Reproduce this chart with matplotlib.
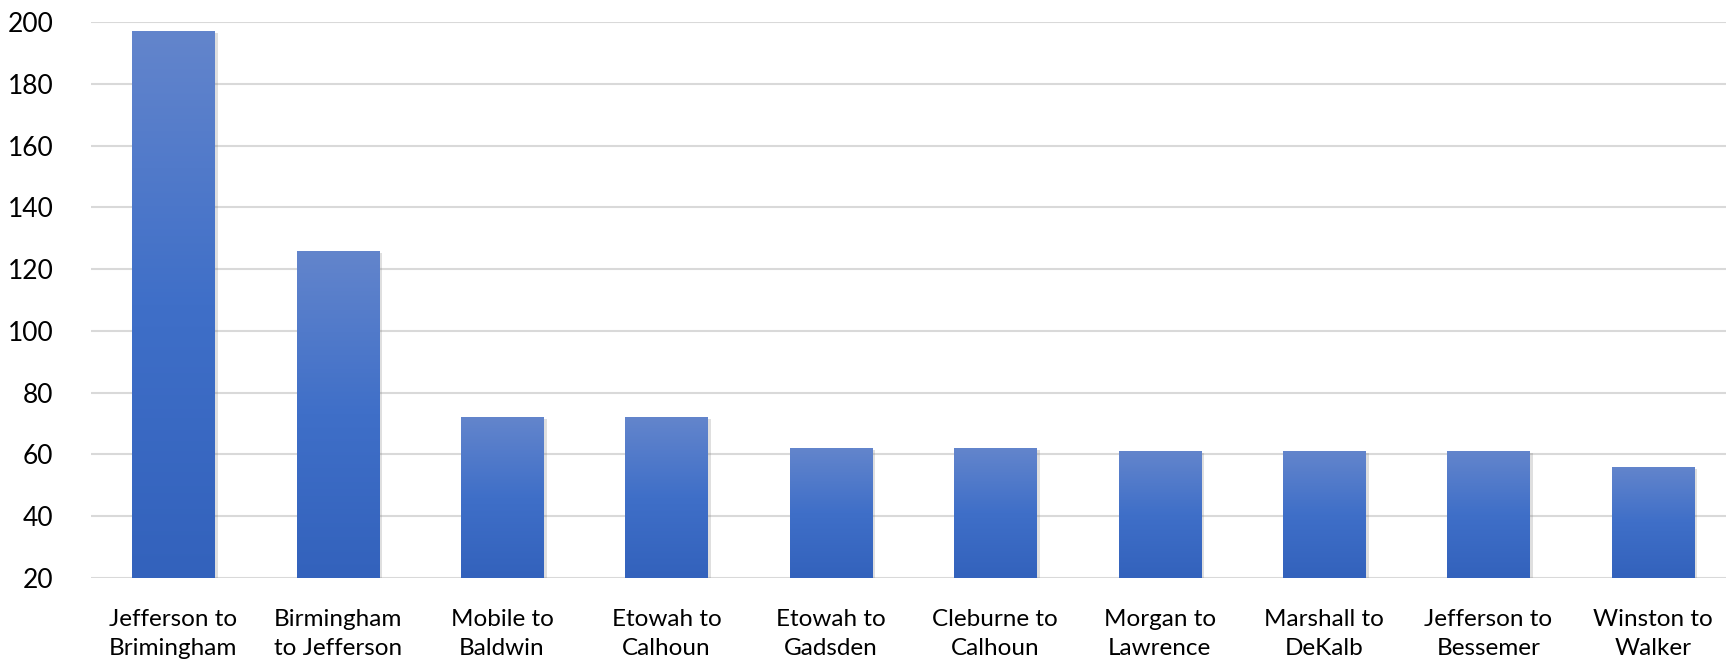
import numpy as np
import matplotlib
matplotlib.use("Agg")
import matplotlib.pyplot as plt
import matplotlib.patheffects as pe
from matplotlib.colors import LinearSegmentedColormap

# route labels as printed under each bar (typo kept from the original)
routes = ["Jefferson to\nBrimingham", "Birmingham\nto Jefferson", "Mobile to\nBaldwin",
          "Etowah to\nCalhoun", "Etowah to\nGadsden", "Cleburne to\nCalhoun",
          "Morgan to\nLawrence", "Marshall to\nDeKalb", "Jefferson to\nBessemer",
          "Winston to\nWalker"]
values = [197, 126, 72, 72, 62, 62, 61, 61, 61, 56]
yticks = [20, 40, 60, 80, 100, 120, 140, 160, 180, 200]

plt.rcParams['font.family'] = ['Lato', 'DejaVu Sans']

fig = plt.figure(figsize=(17.26, 6.64), dpi=100)
ax = fig.add_axes([91 / 1726, 86 / 664, 1644 / 1726, 556 / 664])

# light at the top, darker towards the base, like the office gradient fill
cmap = LinearSegmentedColormap.from_list("barfill", ["#3362BC", "#3F6FC8", "#6385CC"])
grad = np.linspace(0, 1, 256).reshape(-1, 1)

x = np.arange(len(routes))
bars = ax.bar(x, np.array(values) - 20, bottom=20, width=0.5, color="#4472C4",
              zorder=3, path_effects=[pe.SimplePatchShadow(offset=(2.5, -1.5), alpha=0.25,
                                                          shadow_rgbFace="#808080"),
                                      pe.Normal()])
for b in bars:
    x0, y0 = b.get_x(), b.get_y()
    im = ax.imshow(grad, cmap=cmap, origin="lower", aspect="auto", zorder=4,
                   extent=[x0, x0 + b.get_width(), y0, y0 + b.get_height()])
    im.set_clip_path(b)

ax.set_xlim(-0.5, len(routes) - 0.5)
ax.set_ylim(20, 200)
ax.set_yticks(yticks)
ax.set_xticks(x)
ax.set_xticklabels(routes, fontsize=17.5, linespacing=1.5)
ax.tick_params(axis="y", labelsize=19, length=0, pad=27)
ax.tick_params(axis="x", length=0, pad=22)
ax.grid(axis="y", color="#D9D9D9", linewidth=1.5, zorder=0)
for s in ax.spines.values():
    s.set_visible(False)

fig.savefig("out.png", dpi=100)
